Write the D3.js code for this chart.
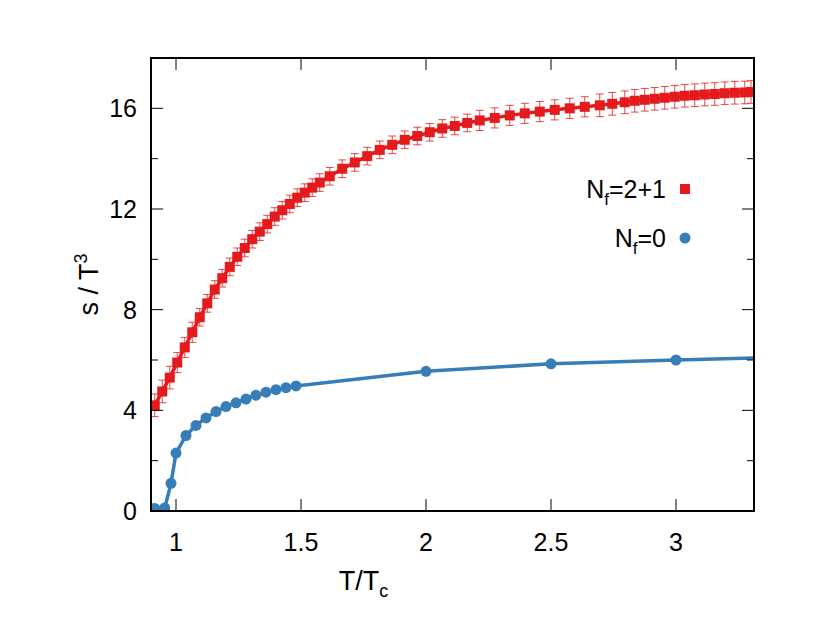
<!DOCTYPE html>
<html><head><meta charset="utf-8">
<script src="https://cdn.jsdelivr.net/npm/d3@7"></script>
<style>body{margin:0;background:#fff}text{font-family:"Liberation Sans",Arial,sans-serif}</style>
</head><body><svg id="c" width="814" height="617"></svg>
<script>
const redT = [0.915,0.945,0.975,1.005,1.035,1.065,1.095,1.125,1.155,1.185,1.215,1.245,1.275,1.305,1.335,1.365,1.395,1.425,1.455,1.485,1.515,1.545,1.575,1.615,1.665,1.715,1.765,1.815,1.865,1.915,1.965,2.015,2.065,2.115,2.165,2.215,2.275,2.335,2.395,2.455,2.515,2.575,2.635,2.695,2.745,2.795,2.835,2.875,2.915,2.955,2.995,3.035,3.075,3.115,3.155,3.195,3.235,3.275,3.300];
const redS = [4.2,4.75,5.3,5.9,6.5,7.1,7.7,8.25,8.8,9.25,9.7,10.1,10.45,10.8,11.1,11.4,11.7,11.95,12.2,12.45,12.65,12.85,13.05,13.3,13.6,13.85,14.1,14.35,14.55,14.75,14.9,15.05,15.2,15.3,15.42,15.52,15.62,15.72,15.8,15.87,15.94,16.0,16.06,16.12,16.18,16.24,16.3,16.34,16.38,16.42,16.46,16.5,16.52,16.55,16.57,16.6,16.62,16.63,16.65];
const redErr = [0.45,0.45,0.45,0.4,0.4,0.4,0.35,0.35,0.35,0.35,0.35,0.35,0.35,0.35,0.35,0.35,0.35,0.35,0.35,0.35,0.35,0.35,0.35,0.35,0.35,0.35,0.35,0.35,0.35,0.35,0.35,0.35,0.35,0.35,0.35,0.4,0.4,0.4,0.4,0.4,0.4,0.4,0.4,0.45,0.45,0.45,0.45,0.45,0.45,0.45,0.45,0.45,0.45,0.45,0.45,0.45,0.45,0.45,0.45];
const blueT = [0.915,0.955,0.98,1.0,1.04,1.08,1.12,1.16,1.2,1.24,1.28,1.32,1.36,1.4,1.44,1.48,2.0,2.5,3.0,3.5];
const blueS = [0.1,0.12,1.1,2.3,3.0,3.4,3.7,3.95,4.15,4.3,4.45,4.6,4.72,4.82,4.9,4.97,5.55,5.85,6.0,6.12];
const xTicks = [1,1.5,2,2.5,3];
const yTicks = [0,4,8,12,16];

const svg = d3.select("#c");
const L=151,R=754,T=58,B=511;
const x = d3.scaleLinear().domain([0.9,3.312]).range([L,R]);
const y = d3.scaleLinear().domain([0,18]).range([B,T]);
svg.append("defs").append("clipPath").attr("id","cp").append("rect").attr("x",L).attr("y",T).attr("width",R-L).attr("height",B-T);
const g = svg.append("g").attr("clip-path","url(#cp)");
const red="#e41a1c", blue="#377eb8";
redT.forEach((t,i)=>{
  const cx=x(t), y1=y(redS[i]-redErr[i]), y2=y(redS[i]+redErr[i]);
  g.append("line").attr("x1",cx).attr("x2",cx).attr("y1",y1).attr("y2",y2).attr("stroke",red).attr("stroke-width",1).attr("opacity",0.8);
  [y1,y2].forEach(yy=>g.append("line").attr("x1",cx-4).attr("x2",cx+4).attr("y1",yy).attr("y2",yy).attr("stroke",red).attr("stroke-width",1).attr("opacity",0.8));
});
const line=d3.line();
g.append("path").attr("d",line(redT.map((t,i)=>[x(t),y(redS[i])]))).attr("fill","none").attr("stroke",red).attr("stroke-width",3.5);
redT.forEach((t,i)=>g.append("rect").attr("x",x(t)-5).attr("y",y(redS[i])-5).attr("width",10).attr("height",10).attr("fill",red));
g.append("path").attr("d",line(blueT.map((t,i)=>[x(t),y(blueS[i])]))).attr("fill","none").attr("stroke",blue).attr("stroke-width",3.5);
blueT.forEach((t,i)=>g.append("circle").attr("cx",x(t)).attr("cy",y(blueS[i])).attr("r",5.5).attr("fill",blue));

const ax=svg.append("g").attr("stroke","#000");
ax.append("rect").attr("x",L).attr("y",T).attr("width",R-L).attr("height",B-T).attr("fill","none").attr("stroke-width",2);
xTicks.forEach(v=>{ax.append("line").attr("x1",x(v)).attr("x2",x(v)).attr("y1",B).attr("y2",B-12);ax.append("line").attr("x1",x(v)).attr("x2",x(v)).attr("y1",T).attr("y2",T+12);});
d3.range(0,19,2).forEach(v=>{const len=(v%4===0)?12:7;ax.append("line").attr("x1",L).attr("x2",L+len).attr("y1",y(v)).attr("y2",y(v));ax.append("line").attr("x1",R).attr("x2",R-len).attr("y1",y(v)).attr("y2",y(v));});
xTicks.forEach(v=>svg.append("text").attr("x",x(v)).attr("y",B+40).attr("text-anchor","middle").attr("font-size",25).text(v));
yTicks.forEach(v=>svg.append("text").attr("x",L-14).attr("y",y(v)+9).attr("text-anchor","end").attr("font-size",25).text(v));
const xl=svg.append("text").attr("x",x(1.75)).attr("y",590).attr("text-anchor","middle").attr("font-size",27);
xl.append("tspan").text("T/T");xl.append("tspan").attr("font-size",18).attr("dy",7).text("c");
const yl=svg.append("text").attr("transform","translate(98,"+((T+B)/2)+") rotate(-90)").attr("text-anchor","middle").attr("font-size",27);
yl.append("tspan").text("s / T");yl.append("tspan").attr("font-size",18).attr("dy",-11).text("3");
const l1=svg.append("text").attr("x",666).attr("y",198).attr("text-anchor","end").attr("font-size",25);
l1.append("tspan").text("N");l1.append("tspan").attr("font-size",17).attr("dy",7).text("f");l1.append("tspan").attr("dy",-7).text("=2+1");
svg.append("rect").attr("x",680).attr("y",184).attr("width",10).attr("height",10).attr("fill",red);
const l2=svg.append("text").attr("x",666).attr("y",247).attr("text-anchor","end").attr("font-size",25);
l2.append("tspan").text("N");l2.append("tspan").attr("font-size",17).attr("dy",7).text("f");l2.append("tspan").attr("dy",-7).text("=0");
svg.append("circle").attr("cx",685).attr("cy",238).attr("r",5.5).attr("fill",blue);
</script></body></html>
